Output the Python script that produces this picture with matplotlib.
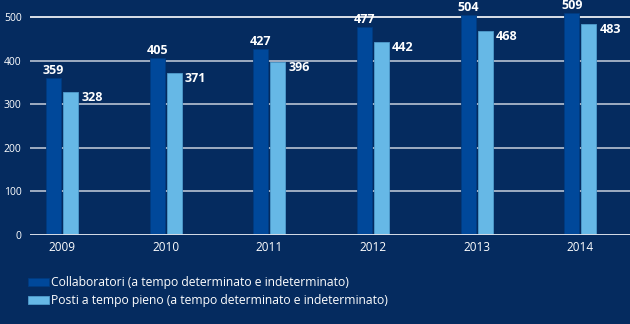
import matplotlib.pyplot as plt
import numpy as np

years = ['2009', '2010', '2011', '2012', '2013', '2014']
collaboratori = [359, 405, 427, 477, 504, 509]
posti = [328, 371, 396, 442, 468, 483]
series_names = ['Collaboratori (a tempo determinato e indeterminato)',
                'Posti a tempo pieno (a tempo determinato e indeterminato)']
yticks = [0, 100, 200, 300, 400, 500]

bg = '#052b5f'
dark = '#00489a'
light = '#66b8e6'

plt.rcParams['font.family'] = ['Open Sans', 'DejaVu Sans']

fig = plt.figure(figsize=(6.3, 3.24), dpi=100, facecolor=bg)
ax = fig.add_axes([30 / 630, 89 / 324, 600 / 630, 235 / 324])
ax.set_facecolor(bg)

x = np.arange(len(years))
w = 0.145
off = 0.082

for y in yticks[1:]:
    ax.axhline(y, color='white' if y == 500 else '#b9c3d3', lw=1.2, zorder=1)
ax.axhline(0, color='#d8dee8', lw=1.4, zorder=3)

b1 = ax.bar(x - off, collaboratori, w, color=dark, edgecolor='#003b80', lw=0.6,
            zorder=2, label=series_names[0])
b2 = ax.bar(x + off, posti, w, color=light, edgecolor='#4f9ccc', lw=0.6,
            zorder=2, label=series_names[1])

for xi, v in zip(x, collaboratori):
    ax.text(xi - off, v + 3, str(v), ha='center', va='bottom', color='white',
            fontsize=9, fontweight='bold')
for xi, v in zip(x, posti):
    ax.text(xi + off + w / 2 + 0.03, v - 12, str(v), ha='left', va='center',
            color='white', fontsize=9, fontweight='bold')

ax.set_xlim(-0.31, 5.48)
ax.set_ylim(0, 539)
ax.set_xticks(x)
ax.set_xticklabels(years)
ax.set_yticks(yticks)
ax.tick_params(length=0, colors='white', labelsize=7.5)
ax.tick_params(axis='y', pad=6)
ax.tick_params(axis='x', pad=4, labelsize=8.5)
for s in ax.spines.values():
    s.set_visible(False)

fig.legend(handles=[b1, b2], loc='upper left', bbox_to_anchor=(28 / 630, 1 - 276 / 324),
           frameon=False, fontsize=8.7, labelcolor='white', handlelength=1.7,
           handleheight=0.7, handletextpad=0.2, labelspacing=0.45, borderpad=0,
           borderaxespad=0)

fig.savefig('out.png', dpi=100, facecolor=bg)
